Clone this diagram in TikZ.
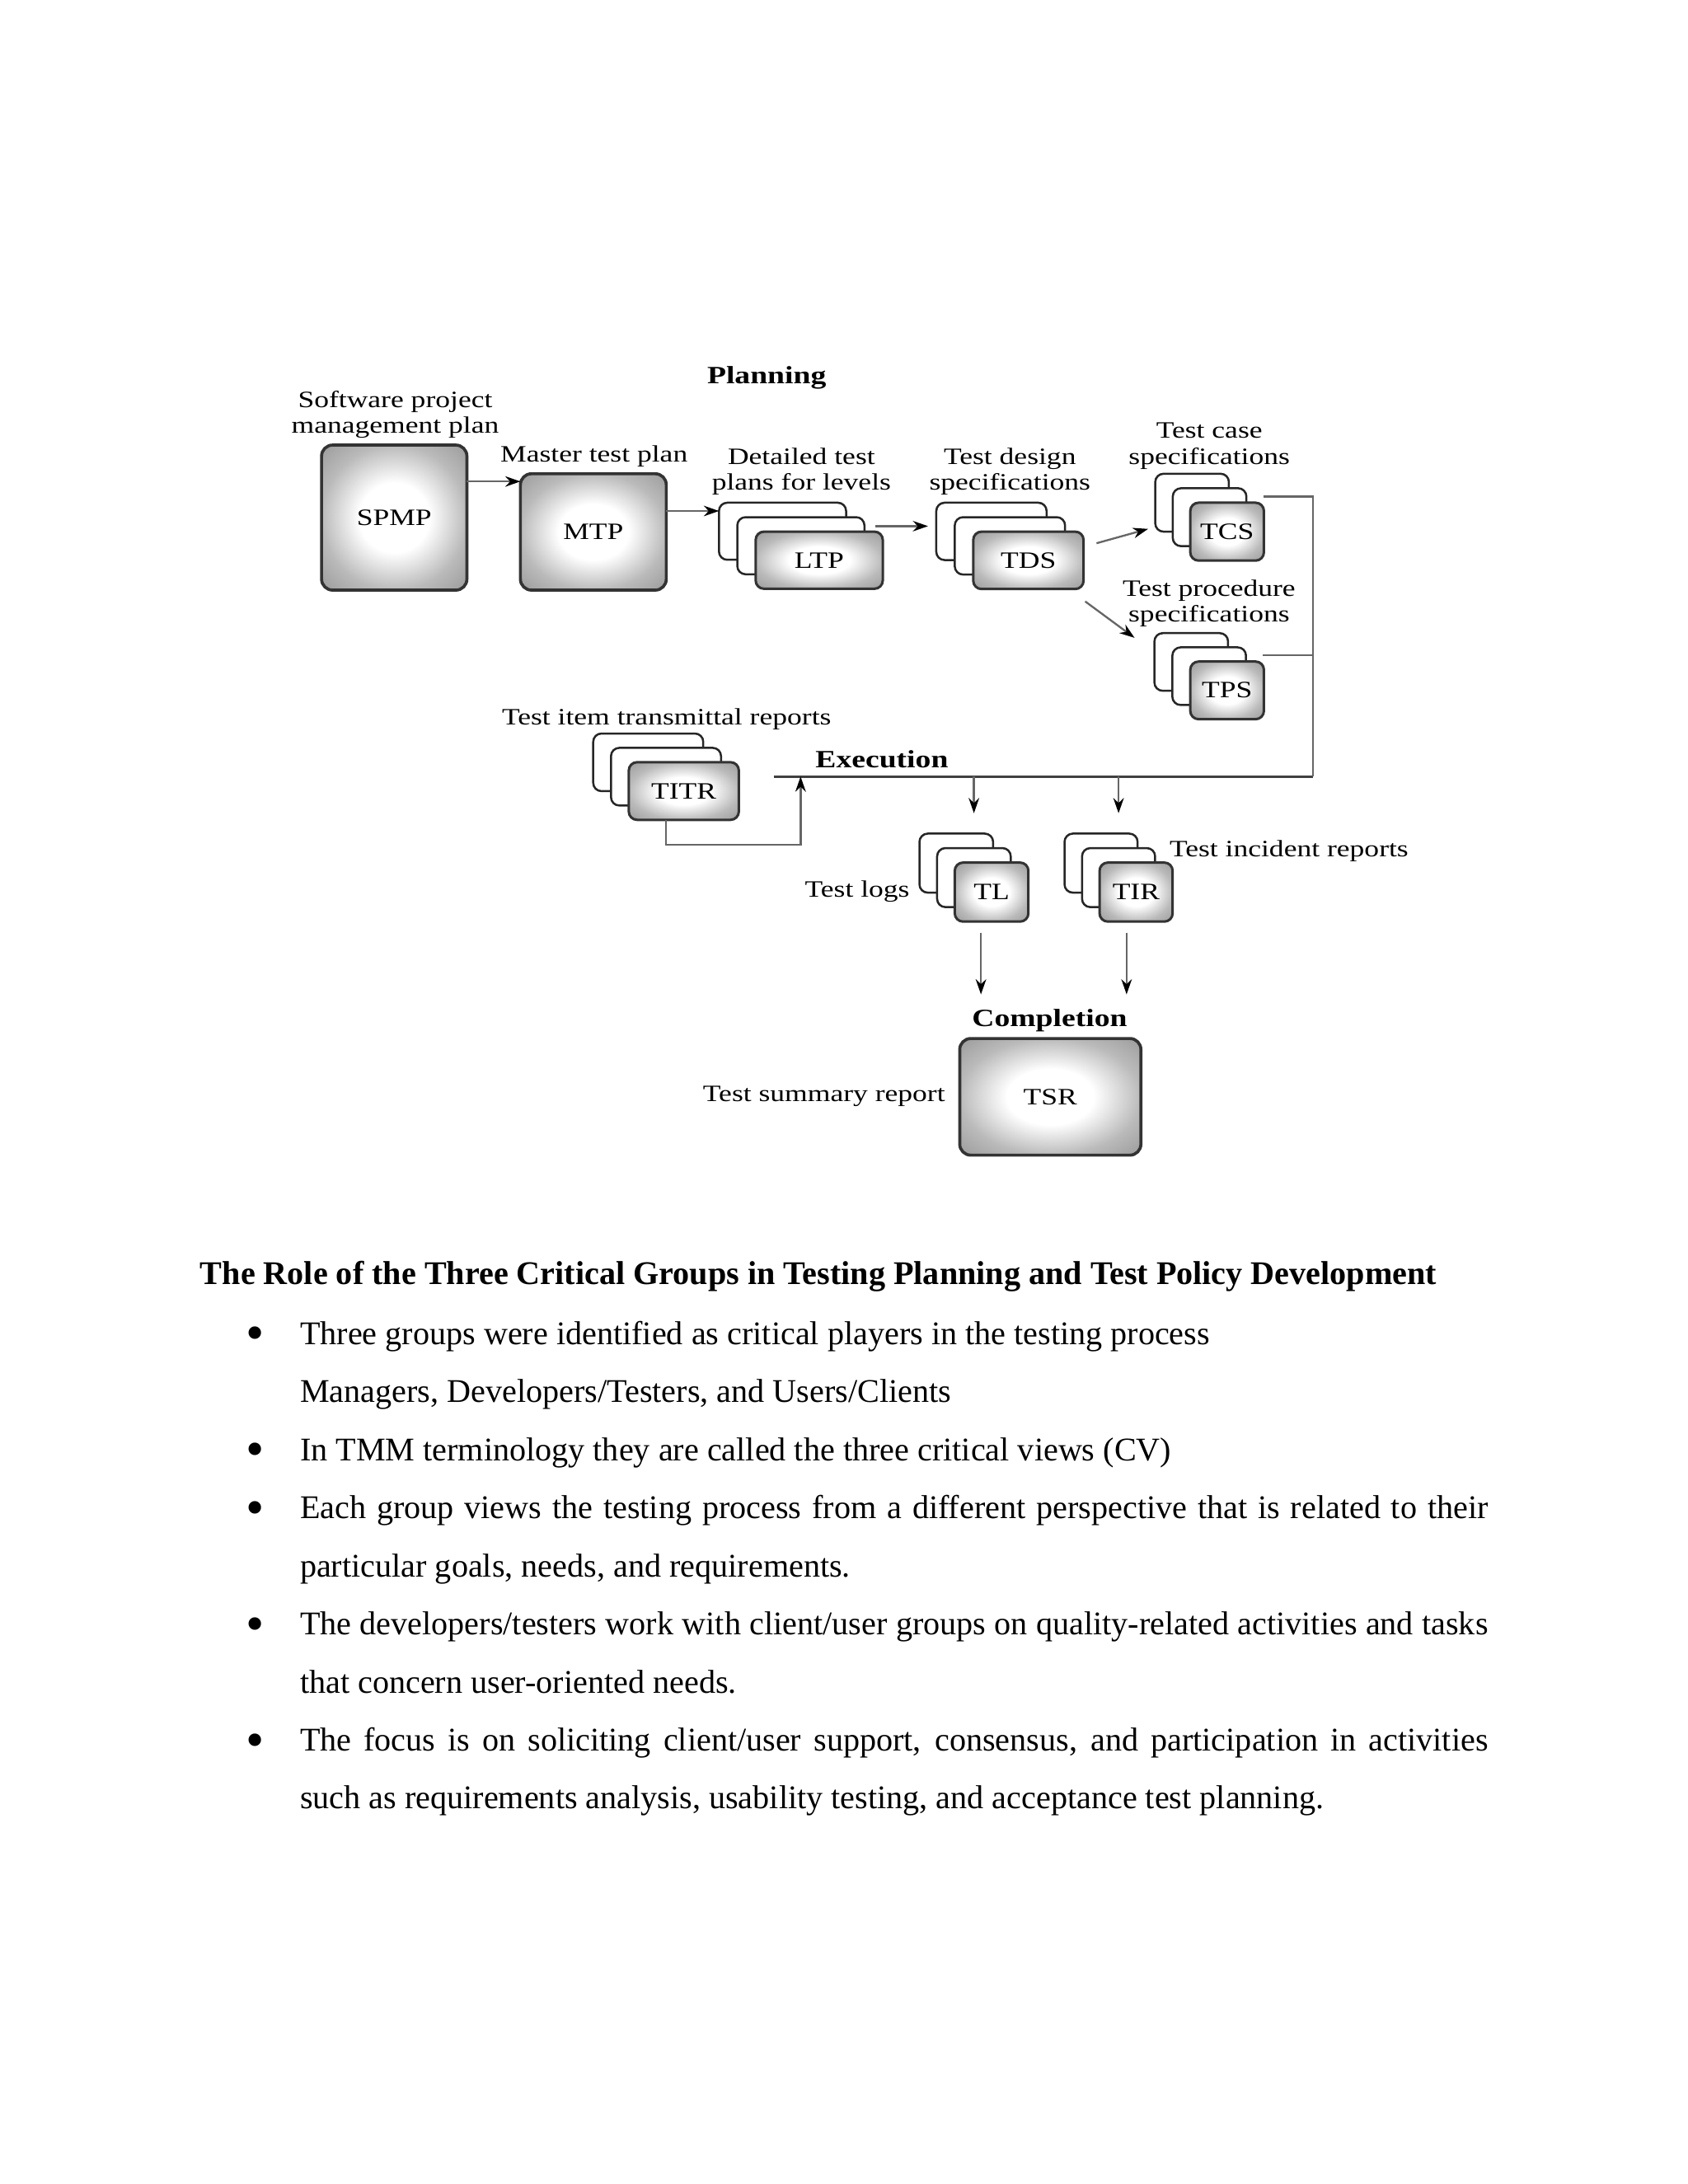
\documentclass[tikz,border=0pt]{standalone}
\usepackage{fontspec}
\setmainfont{Liberation Serif}
\newfontfamily\figfont[FakeStretch=1.25]{Liberation Serif}
\usetikzlibrary{arrows.meta,calc}

\pgfdeclareradialshading{cardshade}{\pgfpointorigin}{%
  color(0bp)=(white); color(12bp)=(white); color(25bp)=(black!27);
  color(36bp)=(black!40); color(50bp)=(black!40)}

\tikzset{
  figtext/.style={font=\figfont\fontsize{8.5}{9.5}\selectfont, inner sep=0pt, align=center},
  fighead/.style={font=\figfont\bfseries\fontsize{9}{10}\selectfont, inner sep=0pt},
  card/.style={draw=black!85, line width=0.75pt, rounded corners=3pt, fill=white,
    anchor=north west, inner sep=0pt, outer sep=0pt, font=\figfont\fontsize{8.5}{9.5}\selectfont},
  frontcard/.style={card, line width=0.9pt, draw=black!80, shade, shading=cardshade},
  bigbox/.style={frontcard, line width=1.1pt, rounded corners=4pt},
  conn/.style={draw=black!60, line width=0.7pt},
  arr/.style={conn, -{Stealth[length=5.5pt,width=3.8pt,color=black]}},
  body/.style={font=\fontsize{12}{14}\selectfont, inner sep=0pt, anchor=base west},
  bul/.style={font=\fontsize{19}{19}\selectfont, inner sep=0pt, anchor=base},
}

\newcommand{\mystack}[8]{%
  \node[card, minimum width=#4pt, minimum height=#5pt] (#1a) at (#2,#3) {};
  \node[card, minimum width=#4pt, minimum height=#5pt] (#1b) at ($(#1a.north west)+(#6,#7)$) {};
  \node[frontcard, minimum width=#4pt, minimum height=#5pt] (#1c) at ($(#1b.north west)+(#6,#7)$) {#8};
}

\begin{document}
\begin{tikzpicture}[x=1pt,y=-1pt]
\useasboundingbox (0,0) rectangle (612,792);

% ---------- big boxes ----------
\node[bigbox, minimum width=52.7pt, minimum height=52.6pt] (SPMP) at (116.6,161.4) {SPMP};
\node[bigbox, minimum width=52.9pt, minimum height=42.2pt] (MTP) at (188.7,171.8) {MTP};
\node[bigbox, minimum width=65.7pt, minimum height=42.3pt] (TSR) at (348,376.6) {TSR};

% ---------- card stacks ----------
\mystack{LTP}{260.7}{182.3}{46.1}{20.7}{6.65}{5.25}{LTP}
\mystack{TDS}{339.5}{182.3}{40}{20.8}{6.7}{5.25}{TDS}
\mystack{TCS}{418.9}{171.8}{26.7}{21}{6.35}{5.25}{TCS}
\mystack{TPS}{418.6}{229.6}{26.7}{20.9}{6.5}{5.15}{TPS}
\mystack{TITR}{215.1}{266.0}{39.9}{20.9}{6.45}{5.2}{TITR}
\mystack{TL}{333.4}{302.3}{26.7}{21.4}{6.4}{5.25}{TL}
\mystack{TIR}{386.0}{302.3}{26.5}{21.4}{6.35}{5.25}{TIR}

% ---------- labels (base = baseline of the last line) ----------
\node[fighead, anchor=base] (hPlan) at (278,139) {Planning};
\node[fighead, anchor=base west] (hExec) at (295.5,278.4) {Execution};
\node[fighead, anchor=base] (hComp) at (380.6,372.1) {Completion};

\node[figtext, anchor=base] (lSPMP) at (143.3,157.2) {Software project\\management plan};
\node[figtext, anchor=base] (lMTP) at (215.4,167.4) {Master test plan};
\node[figtext, anchor=base] (lLTP) at (290.6,177.8) {Detailed test\\plans for levels};
\node[figtext, anchor=base] (lTDS) at (366.2,177.8) {Test design\\specifications};
\node[figtext, anchor=base] (lTCS) at (438.5,168.4) {Test case\\specifications};
\node[figtext, anchor=base] (lTPS) at (438.4,225.6) {Test procedure\\specifications};
\node[figtext, anchor=base] (lTITR) at (241.7,263) {Test item transmittal reports};
\node[figtext, anchor=base east] (lTL) at (330,325.2) {Test logs};
\node[figtext, anchor=base west] (lTIR) at (423.9,310.8) {Test incident reports};
\node[figtext, anchor=base east] (lTSR) at (342.9,399.5) {Test summary report};

% ---------- connectors ----------
\draw[arr] (SPMP.east |- 0,174.6) -- (MTP.west |- 0,174.6);
\draw[arr] (MTP.east |- 0,185.3) -- (LTPa.west |- 0,185.3);
\draw[arr] ($(LTPb.east |- 0,190.8)+(4,0)$) -- ($(TDSa.west |- 0,190.8)+(-3,0)$);
\draw[arr] ($(TDSc.north east)+(4.7,4.2)$) -- ($(TCSa.south west)+(-2.6,-1)$);
\draw[arr] ($(TDSc.south east)+(0.6,4.5)$) -- ($(TPSa.north west)+(-7.2,1.7)$);

\coordinate (exL) at (280.7,281.6);
\coordinate (exR) at (476,281.6);
\draw[conn, line width=1pt, draw=black!75] (exL) -- (exR);
\draw[conn] ($(TCSc.north east)+(0,-2.2)$) -| (exR);
\draw[conn] ($(TPSc.north east)+(-0.3,-2.3)$) coordinate (tpsS) -- (tpsS -| exR);

\draw[arr] (TLb.north |- exL) -- ($(TLb.north |- TLa.north)+(0,-7.4)$);
\draw[arr] (TIRb.north |- exL) -- ($(TIRb.north |- TIRa.north)+(0,-7.4)$);

\coordinate (tsrIn) at ($(TSR.north)+(0,-16)$);
\draw[arr] ($(TLc.south)+(-3.85,4)$) coordinate (t1) -- (t1 |- tsrIn);
\draw[arr] ($(TIRc.south)+(-3.45,4)$) coordinate (t2) -- (t2 |- tsrIn);

\coordinate (fb) at (290.3,306.3);
\draw[arr] ($(TITRc.south)+(-6.5,0)$) |- (fb) -- (fb |- exL);

% ---------- text below ----------
\node[body, font=\bfseries\fontsize{12}{14}\selectfont] (head) at (72.4,465.7)
  {The Role of the Three Critical Groups in Testing Planning and Test Policy Development};

\node[bul] (b1) at (92.6,489.8) {•};
\node[body] (t1l) at (108.6,487.6) {Three groups were identified as critical players in the testing process};
\node[body] (t2l) at (108.6,508.6) {Managers, Developers/Testers, and Users/Clients};
\node[bul] (b2) at (92.6,531.9) {•};
\node[body] (t3l) at (108.6,529.7) {In TMM terminology they are called the three critical views (CV)};
\node[bul] (b3) at (92.6,553.0) {•};
\node[body] (t4l) at (108.6,550.8) {\makebox[430.8pt][s]{Each group views the testing process from a different perspective that is related to their}};
\node[body] (t5l) at (108.6,571.8) {particular goals, needs, and requirements.};
\node[bul] (b4) at (92.6,595.1) {•};
\node[body] (t6l) at (108.6,592.9) {\makebox[430.8pt][s]{The developers/testers work with client/user groups on quality-related activities and tasks}};
\node[body] (t7l) at (108.6,613.9) {that concern user-oriented needs.};
\node[bul] (b5) at (92.6,637.2) {•};
\node[body] (t8l) at (108.6,635.0) {\makebox[430.8pt][s]{The focus is on soliciting client/user support, consensus, and participation in activities}};
\node[body] (t9l) at (108.6,656.0) {such as requirements analysis, usability testing, and acceptance test planning.};
\end{tikzpicture}
\end{document}
